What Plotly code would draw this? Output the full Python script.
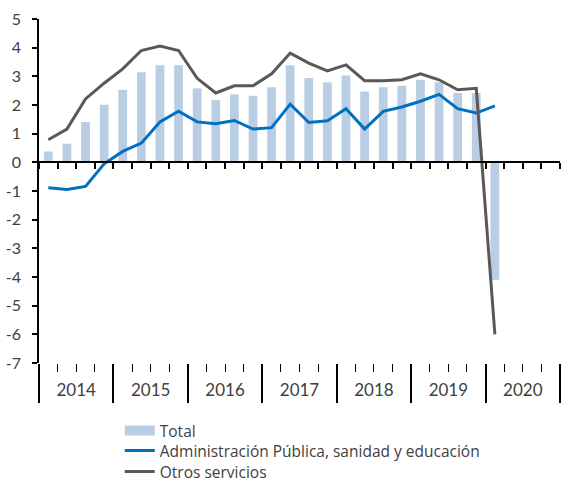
import plotly.graph_objects as go

years = ["2014", "2015", "2016", "2017", "2018", "2019", "2020"]
quarters = ["T1", "T2", "T3", "T4"]
categories = [f"{y} {q}" for y in years for q in quarters]

total = [0.38, 0.65, 1.41, 2.01, 2.53, 3.14, 3.39, 3.39, 2.58, 2.17, 2.37, 2.32,
         2.62, 3.39, 2.94, 2.79, 3.03, 2.47, 2.62, 2.67, 2.88, 2.79, 2.42, 2.42,
         -4.1, None, None, None]
admin = [-0.89, -0.95, -0.84, -0.05, 0.38, 0.67, 1.41, 1.78, 1.41, 1.35, 1.46, 1.16,
         1.21, 2.03, 1.39, 1.45, 1.87, 1.16, 1.78, 1.93, 2.13, 2.37, 1.87, 1.72,
         1.97, None, None, None]
otros = [0.79, 1.16, 2.21, 2.76, 3.26, 3.90, 4.06, 3.90, 2.93, 2.42, 2.67, 2.67,
         3.09, 3.81, 3.46, 3.19, 3.40, 2.85, 2.85, 2.88, 3.09, 2.88, 2.53, 2.58,
         -6.0, None, None, None]

y_tick_values = [-7, -6, -5, -4, -3, -2, -1, 0, 1, 2, 3, 4, 5]
y_tick_labels = ["-7", "-6", "-5", "-4", "-3", "-2", "-1", "0", "1", "2", "3", "4", "5"]

series_names = ["Total", "Administración Pública, sanidad y educación", "Otros servicios"]

FONT = "Lato"
LEG_FONT = "Open Sans"
TXT = "#404040"
AX = "#000000"
C_TOTAL, C_ADMIN, C_OTROS = "#B9CDE5", "#0070C0", "#595959"

n_q = len(categories)
n_per = len(quarters)
ymin, ymax = -7, 5
lin_range = [-0.5, n_q - 0.5]

W, H = 569, 483
M = dict(l=39, r=9, t=19, b=120)
plot_h = H - M["t"] - M["b"]
plot_bottom = H - M["b"]


def leg_y(row_px):
    return (plot_bottom - row_px) / plot_h


fig = go.Figure()
fig.add_trace(go.Bar(x=categories, y=total, name=series_names[0], showlegend=False,
                     legendgroup="t", marker=dict(color=C_TOTAL, line=dict(width=0))))
# legend-only key for the bars (wide swatch like the original)
fig.add_trace(go.Scatter(x=[None], y=[None], name=series_names[0], mode="lines",
                         legendgroup="t", legend="legend",
                         line=dict(color=C_TOTAL, width=10), hoverinfo="skip"))
fig.add_trace(go.Scatter(x=categories, y=admin, name=series_names[1], mode="lines",
                         legend="legend2", line=dict(color=C_ADMIN, width=3)))
fig.add_trace(go.Scatter(x=categories, y=otros, name=series_names[2], mode="lines",
                         legend="legend3", line=dict(color=C_OTROS, width=3)))
# empty helper traces so the overlay axes are drawn
for ax in ["x2", "x3", "x4"]:
    fig.add_trace(go.Scatter(x=[], y=[], xaxis=ax, showlegend=False, hoverinfo="skip"))

common_lin = dict(overlaying="x", range=lin_range, tickmode="array", showgrid=False,
                  zeroline=False, automargin=False)
leg_common = dict(x=0.155, xanchor="left", yanchor="middle", itemwidth=30,
                  bgcolor="rgba(0,0,0,0)",
                  font=dict(family=LEG_FONT, size=15.5, color=TXT))

fig.update_layout(
    width=W, height=H,
    margin=dict(**M, autoexpand=False),
    paper_bgcolor="white", plot_bgcolor="white",
    font=dict(family=FONT, size=15, color=TXT),
    bargap=0.53,
    showlegend=True,
    legend=dict(y=leg_y(431), **leg_common),
    legend2=dict(y=leg_y(451), **leg_common),
    legend3=dict(y=leg_y(472), **leg_common),
    # main category axis: quarter tick marks at the bottom
    xaxis=dict(type="category", categoryorder="array", categoryarray=categories,
               showticklabels=False, ticks="outside", tickson="boundaries",
               ticklen=8, tickcolor=AX, tickwidth=1, showline=False,
               showgrid=False, zeroline=False, automargin=False),
    # year dividers
    xaxis2=dict(anchor="y", side="bottom",
                tickvals=[i * n_per - 0.5 for i in range(len(years) + 1)],
                ticks="outside", ticklen=39, tickcolor=AX, tickwidth=1.5,
                showticklabels=False, showline=False, **common_lin),
    # year labels
    xaxis3=dict(anchor="y", side="bottom",
                tickvals=[i * n_per + (n_per - 1) / 2 for i in range(len(years))],
                ticktext=years, ticks="", showline=False, ticklabelstandoff=15,
                tickfont=dict(family=FONT, size=17, color=TXT), **common_lin),
    # axis line with tick marks at y = 0
    xaxis4=dict(anchor="free", position=(0 - ymin) / (ymax - ymin),
                tickvals=[i - 0.5 for i in range(n_q + 1)],
                ticks="outside", ticklen=6, tickcolor=AX, tickwidth=1.5,
                showticklabels=False, showline=True, linecolor=AX, linewidth=1.5,
                **common_lin),
    yaxis=dict(range=[ymin, ymax], tickmode="array", tickvals=y_tick_values,
               ticktext=y_tick_labels, ticks="outside", ticklen=5,
               tickcolor=AX, tickwidth=1.5, showline=True, linecolor=AX,
               linewidth=1.5, showgrid=False, zeroline=False, automargin=False,
               ticklabelstandoff=8, tickfont=dict(family=FONT, size=16, color=TXT)),
)

# remove the page's default body margin so the figure fills the window exactly
fig.write_html("out.html", config={"displayModeBar": False},
               post_script="document.body.style.margin='0px';")
